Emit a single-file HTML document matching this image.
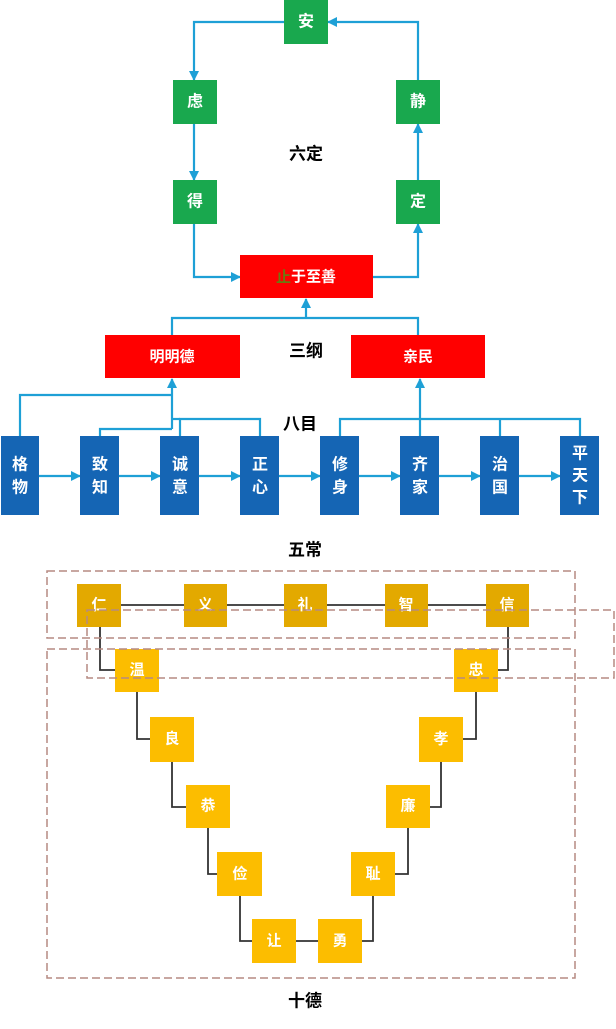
<!DOCTYPE html>
<html><head><meta charset="utf-8"><style>
html,body{margin:0;padding:0;background:#fff;}
body{width:616px;height:1024px;overflow:hidden;}
svg text{font-family:"Liberation Sans","Noto Sans CJK SC",sans-serif;font-weight:bold;text-anchor:middle;dominant-baseline:central;}
</style></head><body>
<svg width="616" height="1024" viewBox="0 0 616 1024" xmlns="http://www.w3.org/2000/svg">
<defs>
<marker id="a" viewBox="0 0 10 10" refX="9" refY="5" markerWidth="10" markerHeight="10" orient="auto" markerUnits="userSpaceOnUse"><path d="M0,0 L10,5 L0,10 z" fill="#1ea0d6"/></marker>
</defs>
<g fill="none" stroke="#1ea0d6" stroke-width="2.2">
<polyline points="284,22 194,22 194,80" marker-end="url(#a)"/>
<polyline points="418,80 418,22 328,22" marker-end="url(#a)"/>
<polyline points="194,124 194,180" marker-end="url(#a)"/>
<polyline points="418,180 418,124" marker-end="url(#a)"/>
<polyline points="194,224 194,277 240,277" marker-end="url(#a)"/>
<polyline points="373,277 418,277 418,224" marker-end="url(#a)"/>
<polyline points="172,335 172,318 418,318 418,335"/>
<polyline points="306,318 306,299" marker-end="url(#a)"/>
<polyline points="20,436 20,395 172,395"/>
<polyline points="100,436 100,429 172,429"/>
<polyline points="172,429 172,379" marker-end="url(#a)"/>
<polyline points="180,436 180,419 260,419 260,436"/>
<polyline points="172,419 180,419"/>
<polyline points="340,436 340,419 580,419 580,436"/>
<polyline points="500,419 500,436"/>
<polyline points="420,436 420,379" marker-end="url(#a)"/>
<polyline points="39,476 80,476" marker-end="url(#a)"/>
<polyline points="119,476 160,476" marker-end="url(#a)"/>
<polyline points="199,476 240,476" marker-end="url(#a)"/>
<polyline points="279,476 320,476" marker-end="url(#a)"/>
<polyline points="359,476 400,476" marker-end="url(#a)"/>
<polyline points="439,476 480,476" marker-end="url(#a)"/>
<polyline points="519,476 560,476" marker-end="url(#a)"/>
</g>
<g fill="#19a84e">
<rect x="284" y="0" width="44" height="44"/>
<rect x="173" y="80" width="44" height="44"/>
<rect x="396" y="80" width="44" height="44"/>
<rect x="173" y="180" width="44" height="44"/>
<rect x="396" y="180" width="44" height="44"/>
</g>
<g fill="#fff" font-size="16">
<text x="306" y="22">安</text><text x="195" y="102">虑</text><text x="418" y="102">静</text>
<text x="195" y="202">得</text><text x="418" y="202">定</text>
</g>
<text x="306" y="154" font-size="17">六定</text>
<g fill="#ff0000">
<rect x="240" y="255" width="133" height="43"/>
<rect x="105" y="335" width="135" height="43"/>
<rect x="351" y="335" width="134" height="43"/>
</g>
<text x="306" y="277" font-size="15" fill="#fff"><tspan fill="#6b7a10">止</tspan>于至善</text>
<text x="172" y="357" font-size="15" fill="#fff">明明德</text>
<text x="418" y="357" font-size="15" fill="#fff">亲民</text>
<text x="306" y="351" font-size="17">三纲</text>
<text x="300" y="424" font-size="17">八目</text>
<g fill="#1565b4">
<rect x="1" y="436" width="38" height="79"/><rect x="80" y="436" width="39" height="79"/>
<rect x="160" y="436" width="39" height="79"/><rect x="240" y="436" width="39" height="79"/>
<rect x="320" y="436" width="39" height="79"/><rect x="400" y="436" width="39" height="79"/>
<rect x="480" y="436" width="39" height="79"/><rect x="560" y="436" width="39" height="79"/>
</g>
<g fill="#fff" font-size="16">
<text x="20" y="465">格</text><text x="20" y="488">物</text>
<text x="100" y="465">致</text><text x="100" y="488">知</text>
<text x="180" y="465">诚</text><text x="180" y="488">意</text>
<text x="260" y="465">正</text><text x="260" y="488">心</text>
<text x="340" y="465">修</text><text x="340" y="488">身</text>
<text x="420" y="465">齐</text><text x="420" y="488">家</text>
<text x="500" y="465">治</text><text x="500" y="488">国</text>
<text x="580" y="454">平</text><text x="580" y="476">天</text><text x="580" y="498">下</text>
</g>
<text x="305" y="550" font-size="17">五常</text>
<g fill="none" stroke="#333" stroke-width="1.8">
<line x1="120" y1="605" x2="487" y2="605"/>
<polyline points="100,627 100,670 115,670"/>
<polyline points="508,627 508,670 498,670"/>
<polyline points="137,692 137,739 150,739"/>
<polyline points="172,762 172,807 186,807"/>
<polyline points="208,828 208,874 217,874"/>
<polyline points="240,896 240,941 252,941"/>
<line x1="296" y1="941" x2="318" y2="941"/>
<polyline points="476,692 476,739 463,739"/>
<polyline points="441,762 441,807 430,807"/>
<polyline points="408,828 408,874 395,874"/>
<polyline points="373,896 373,941 362,941"/>
</g>
<g fill="#e3a900">
<rect x="77" y="584" width="44" height="43"/><rect x="184" y="584" width="43" height="43"/>
<rect x="284" y="584" width="43" height="43"/><rect x="385" y="584" width="43" height="43"/>
<rect x="486" y="584" width="43" height="43"/>
</g>
<g fill="#fcbd00">
<rect x="115" y="649" width="44" height="43"/><rect x="454" y="649" width="44" height="43"/>
<rect x="150" y="717" width="44" height="45"/><rect x="419" y="717" width="44" height="45"/>
<rect x="186" y="785" width="44" height="43"/><rect x="386" y="785" width="44" height="43"/>
<rect x="217" y="852" width="45" height="44"/><rect x="351" y="852" width="44" height="44"/>
<rect x="252" y="919" width="44" height="44"/><rect x="318" y="919" width="44" height="44"/>
</g>
<g fill="#fff" font-size="15">
<text x="99" y="605">仁</text><text x="205" y="605">义</text><text x="305" y="605">礼</text><text x="406" y="605">智</text><text x="507" y="605">信</text>
<text x="137" y="670">温</text><text x="476" y="670">忠</text>
<text x="172" y="739">良</text><text x="441" y="739">孝</text>
<text x="208" y="806">恭</text><text x="408" y="806">廉</text>
<text x="240" y="874">俭</text><text x="373" y="874">耻</text>
<text x="274" y="941">让</text><text x="340" y="941">勇</text>
</g>
<g fill="none" stroke="#b58a82" stroke-width="1.5" stroke-dasharray="8,4">
<rect x="47" y="571" width="528" height="67"/>
<rect x="87" y="610" width="527" height="68"/>
<rect x="47" y="649" width="528" height="329"/>
</g>
<text x="305" y="1001" font-size="17">十德</text>
</svg>
</body></html>
